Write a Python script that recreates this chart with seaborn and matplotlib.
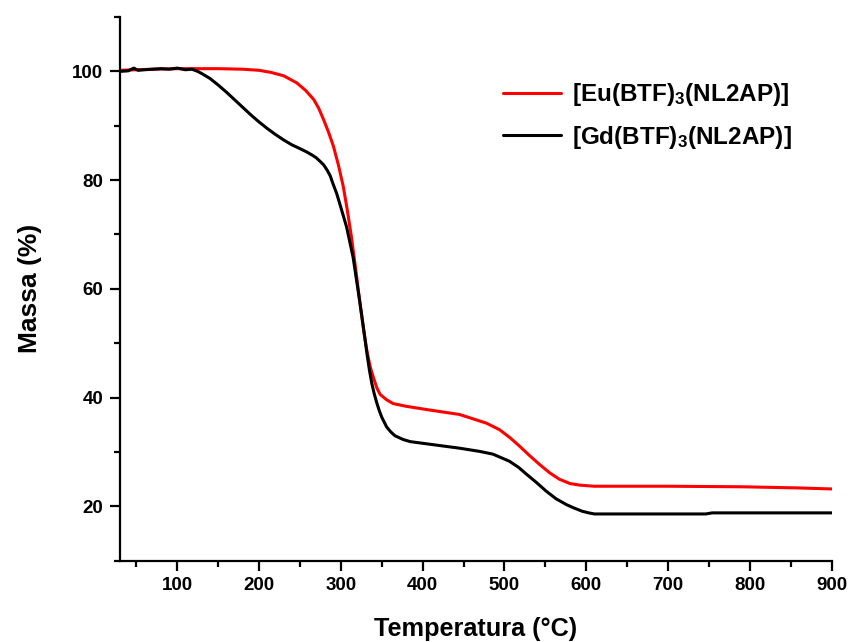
import numpy as np
import pandas as pd
import matplotlib
matplotlib.use("Agg")
import matplotlib.pyplot as plt
import seaborn as sns
from matplotlib.ticker import MultipleLocator

# Data
eu_temp = [30, 50, 70, 100, 130, 150, 180, 200, 215, 230, 246, 257, 267, 273, 279,
           285, 291, 297, 303, 308, 313, 318, 323, 328, 332, 336, 340, 344, 348,
           356, 364, 380, 405, 445, 478, 494, 507, 519, 531, 543, 555, 567, 580,
           592, 610, 640, 700, 790, 856, 900]
eu_mass = [100.2, 100.3, 100.4, 100.5, 100.5, 100.5, 100.4, 100.2, 99.8, 99.2, 97.9,
           96.5, 94.8, 93.2, 91.1, 88.8, 86.2, 82.8, 78.8, 74.4, 69.5, 63.8, 57.8,
           52.2, 48.5, 45.6, 43.6, 41.8, 40.6, 39.6, 38.9, 38.4, 37.8, 36.9, 35.3,
           34.1, 32.6, 31.0, 29.3, 27.7, 26.2, 25.0, 24.2, 23.9, 23.7, 23.7, 23.7,
           23.6, 23.4, 23.2]

gd_temp = [30, 40, 47, 52, 60, 70, 80, 90, 100, 110, 118, 125, 130, 140, 150, 160,
           170, 180, 190, 200, 210, 220, 230, 240, 250, 258, 265, 270, 275, 279,
           283, 287, 290, 295, 300, 307, 315, 323, 328, 332, 335, 338, 341, 344,
           347, 350, 356, 361, 366, 376, 385, 420, 445, 470, 486, 506, 517, 527,
           539, 551, 563, 576, 585, 595, 603, 610, 640, 746, 754, 900]
gd_mass = [100.0, 100.1, 100.6, 100.2, 100.3, 100.4, 100.5, 100.4, 100.6, 100.3,
           100.4, 100.0, 99.6, 98.7, 97.5, 96.2, 94.8, 93.4, 92.0, 90.7, 89.5,
           88.4, 87.4, 86.5, 85.8, 85.2, 84.6, 84.1, 83.4, 82.8, 81.9, 80.8, 79.5,
           77.5, 75.0, 71.4, 65.8, 57.8, 52.5, 48.0, 45.0, 42.5, 40.6, 39.0, 37.6,
           36.4, 34.6, 33.7, 33.0, 32.3, 31.9, 31.2, 30.7, 30.1, 29.6, 28.3, 27.2,
           25.9, 24.4, 22.8, 21.4, 20.3, 19.7, 19.1, 18.8, 18.6, 18.6, 18.6, 18.8,
           18.8]

eu_label = "[Eu(BTF)$_3$(NL2AP)]"
gd_label = "[Gd(BTF)$_3$(NL2AP)]"

df = pd.concat([
    pd.DataFrame({"Temperatura": eu_temp, "Massa": eu_mass, "Amostra": eu_label}),
    pd.DataFrame({"Temperatura": gd_temp, "Massa": gd_mass, "Amostra": gd_label}),
], ignore_index=True)

sns.set_style("ticks")
plt.rcParams["font.family"] = ["Liberation Sans", "DejaVu Sans"]
plt.rcParams["font.weight"] = "bold"
plt.rcParams["text.color"] = "black"
plt.rcParams["axes.labelcolor"] = "black"
plt.rcParams["xtick.color"] = "black"
plt.rcParams["ytick.color"] = "black"
plt.rcParams["axes.edgecolor"] = "black"
plt.rcParams["mathtext.fontset"] = "custom"
plt.rcParams["mathtext.rm"] = "Liberation Sans:bold"
plt.rcParams["mathtext.bf"] = "Liberation Sans:bold"
plt.rcParams["mathtext.it"] = "Liberation Sans:bold"
plt.rcParams["mathtext.default"] = "bf"

fig = plt.figure(figsize=(8.49, 6.42), dpi=100)
ax = fig.add_axes([0.1413, 0.1266, 0.8383, 0.8469])

sns.lineplot(data=df, x="Temperatura", y="Massa", hue="Amostra",
             palette={eu_label: "#ff0000", gd_label: "#000000"},
             linewidth=2.2, ax=ax, sort=False, estimator=None)

ax.set_xlim(30, 900)
ax.set_ylim(10, 110)
ax.xaxis.set_major_locator(MultipleLocator(100))
ax.xaxis.set_minor_locator(MultipleLocator(50))
ax.yaxis.set_major_locator(MultipleLocator(20))
ax.yaxis.set_minor_locator(MultipleLocator(10))
ax.set_yticks([20, 40, 60, 80, 100])

for s in ["top", "right"]:
    ax.spines[s].set_visible(False)
for s in ["left", "bottom"]:
    ax.spines[s].set_linewidth(1.6)
    ax.spines[s].set_color("black")

ax.tick_params(which="major", direction="out", length=7, width=1.6,
               labelsize=13.5, pad=5, colors="black")
ax.tick_params(which="minor", direction="out", length=4, width=1.6)
for lab in ax.get_xticklabels() + ax.get_yticklabels():
    lab.set_fontweight("bold")

ax.set_xlabel("Temperatura (°C)", fontsize=18.2, fontweight="bold", labelpad=16)
ax.set_ylabel("Massa (%)", fontsize=19, fontweight="bold", labelpad=22)

leg = ax.legend(loc="center left", bbox_to_anchor=(0.538, 0.818), frameon=False,
                fontsize=17.5, handlelength=2.4, handletextpad=0.45,
                borderpad=0, borderaxespad=0, labelspacing=0.65)
for line in leg.get_lines():
    line.set_linewidth(2.2)
for t in leg.get_texts():
    t.set_fontweight("bold")

fig.savefig("out.png", dpi=100)
